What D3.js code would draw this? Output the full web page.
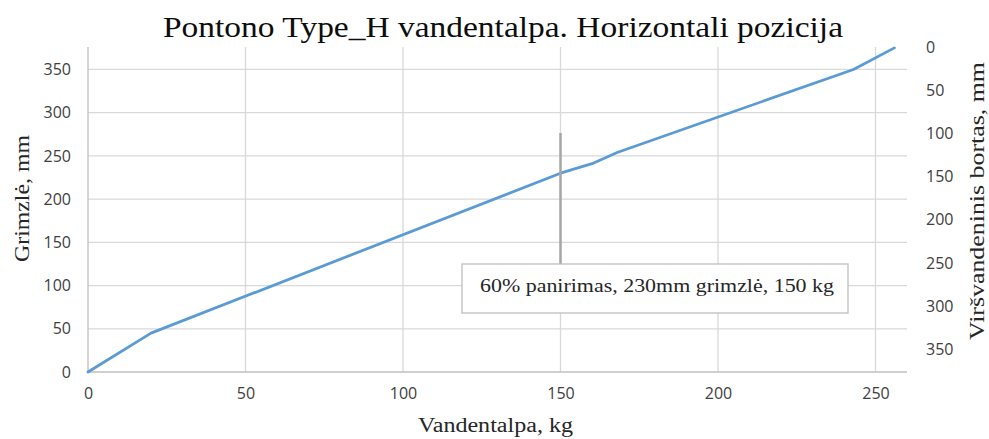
<!DOCTYPE html>
<html>
<head>
<meta charset="utf-8">
<script src="https://cdn.jsdelivr.net/npm/d3@7/dist/d3.min.js"></script>
<style>
  body { margin: 0; background: #fff; }
  svg { display: block; }
</style>
</head>
<body>
<svg width="989" height="439"></svg>
<script>
// values
const kg = [0, 20, 150, 160, 168, 243, 256];
const mm = [0, 45, 230, 241, 254, 350, 375];
const xTicks = [0, 50, 100, 150, 200, 250];
const yTicks = [0, 50, 100, 150, 200, 250, 300, 350];
const noteKg = 150;
const noteText = "60% panirimas, 230mm grimzlė, 150 kg";

const svg = d3.select("svg");
const margin = { left: 88, right: 82, top: 47, bottom: 67 };
const width = +svg.attr("width");
const height = +svg.attr("height");

const x = d3.scaleLinear().domain([0, 260]).range([margin.left, width - margin.right]);
const y = d3.scaleLinear().domain([0, 376]).range([height - margin.bottom, margin.top]);
const y2 = d3.scaleLinear().domain([0, 376]).range([margin.top, height - margin.bottom]);

const sans = "'Open Sans', 'Liberation Sans', sans-serif";
const serif = "'Liberation Serif', serif";

// grid
svg.append("g")
  .selectAll("line")
  .data(yTicks.slice(1))
  .enter()
  .append("line")
  .attr("x1", x(0)).attr("x2", x(260))
  .attr("y1", d => y(d)).attr("y2", d => y(d))
  .attr("stroke", "#d9d9d9").attr("stroke-width", 1.3);

svg.append("g")
  .selectAll("line")
  .data(xTicks.slice(1))
  .enter()
  .append("line")
  .attr("x1", d => x(d)).attr("x2", d => x(d))
  .attr("y1", y(0)).attr("y2", margin.top)
  .attr("stroke", "#d9d9d9").attr("stroke-width", 1.3);

// axis lines
svg.append("line")
  .attr("x1", x(0)).attr("x2", x(260)).attr("y1", y(0)).attr("y2", y(0))
  .attr("stroke", "#bfbfbf").attr("stroke-width", 1.3);
svg.append("line")
  .attr("x1", x(0)).attr("x2", x(0)).attr("y1", y(0)).attr("y2", margin.top)
  .attr("stroke", "#bfbfbf").attr("stroke-width", 1.3);

// tick labels
const xAxis = svg.append("g")
  .attr("transform", "translate(0," + y(0) + ")")
  .call(d3.axisBottom(x).tickValues(xTicks).tickSize(0).tickPadding(16));
const yAxis = svg.append("g")
  .attr("transform", "translate(" + x(0) + ",0)")
  .call(d3.axisLeft(y).tickValues(yTicks).tickSize(0).tickPadding(17));
const yAxis2 = svg.append("g")
  .attr("transform", "translate(" + (x(260) + 19) + ",0)")
  .call(d3.axisRight(y2).tickValues(yTicks).tickSize(0).tickPadding(0));

[xAxis, yAxis, yAxis2].forEach(a => {
  a.select(".domain").remove();
  a.selectAll("text")
    .attr("font-family", sans)
    .attr("font-size", 16)
    .attr("fill", "#404040");
});

// series
const pts = kg.map((k, i) => [k, mm[i]]);
svg.append("path")
  .datum(pts)
  .attr("fill", "none")
  .attr("stroke", "#5b9bd5")
  .attr("stroke-width", 2.8)
  .attr("stroke-linejoin", "round")
  .attr("stroke-linecap", "round")
  .attr("d", d3.line().x(d => x(d[0])).y(d => y(d[1])));

// annotation
svg.append("line")
  .attr("x1", x(noteKg)).attr("x2", x(noteKg))
  .attr("y1", 133).attr("y2", 264)
  .attr("stroke", "#a6a6a6").attr("stroke-width", 2.5);

svg.append("rect")
  .attr("x", 462).attr("y", 264)
  .attr("width", 386).attr("height", 49)
  .attr("fill", "#fff")
  .attr("stroke", "#bfbfbf").attr("stroke-width", 1.3);

svg.append("text")
  .attr("x", 480).attr("y", 292)
  .attr("font-family", serif)
  .attr("font-size", 19)
  .attr("textLength", 354)
  .attr("lengthAdjust", "spacingAndGlyphs")
  .attr("fill", "#262626")
  .text(noteText);

// titles
svg.append("text")
  .attr("x", 163).attr("y", 37)
  .attr("font-family", serif)
  .attr("font-size", 30)
  .attr("textLength", 680)
  .attr("lengthAdjust", "spacingAndGlyphs")
  .attr("fill", "#0d0d0d")
  .text("Pontono Type_H vandentalpa. Horizontali pozicija");

svg.append("text")
  .attr("x", 418).attr("y", 432)
  .attr("font-family", serif)
  .attr("font-size", 20)
  .attr("textLength", 155)
  .attr("lengthAdjust", "spacingAndGlyphs")
  .attr("fill", "#262626")
  .text("Vandentalpa, kg");

svg.append("text")
  .attr("transform", "translate(29,262) rotate(-90)")
  .attr("font-family", serif)
  .attr("font-size", 20)
  .attr("textLength", 127)
  .attr("lengthAdjust", "spacingAndGlyphs")
  .attr("fill", "#262626")
  .text("Grimzlė, mm");

svg.append("text")
  .attr("transform", "translate(984,340) rotate(-90)")
  .attr("font-family", serif)
  .attr("font-size", 20)
  .attr("textLength", 278)
  .attr("lengthAdjust", "spacingAndGlyphs")
  .attr("fill", "#262626")
  .text("Viršvandeninis bortas, mm");
</script>
</body>
</html>
